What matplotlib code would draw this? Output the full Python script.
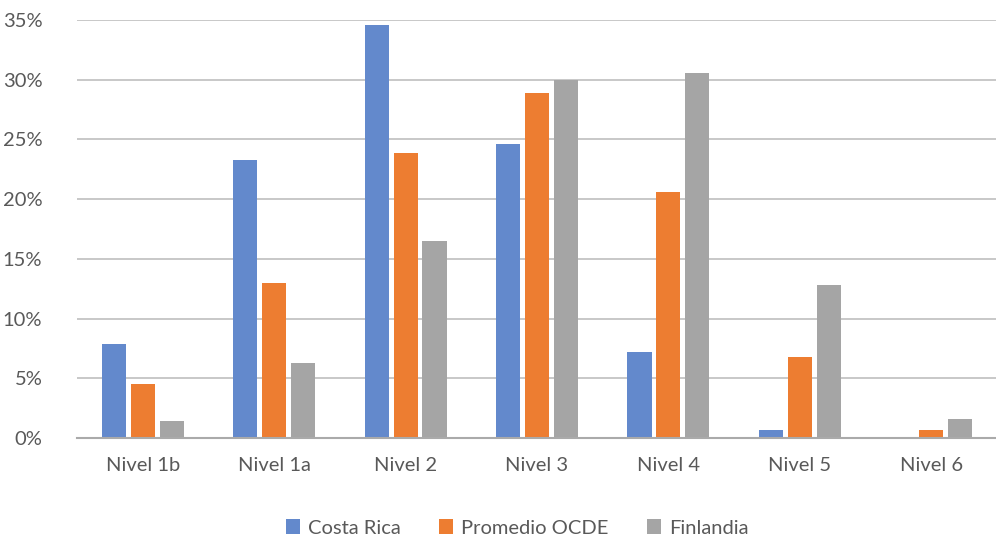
import numpy as np
import matplotlib.pyplot as plt

categories = ["Nivel 1b", "Nivel 1a", "Nivel 2", "Nivel 3", "Nivel 4", "Nivel 5", "Nivel 6"]
costa_rica = [7.9, 23.3, 34.6, 24.6, 7.2, 0.7, 0.0]
promedio_ocde = [4.5, 13.0, 23.9, 28.9, 20.6, 6.8, 0.7]
finlandia = [1.4, 6.3, 16.5, 30.0, 30.6, 12.8, 1.6]

series = [
    ("Costa Rica", costa_rica, "#6389CC"),
    ("Promedio OCDE", promedio_ocde, "#ED7D31"),
    ("Finlandia", finlandia, "#A5A5A5"),
]

plt.rcParams['font.family'] = ['Lato', 'DejaVu Sans']
text_color = "#595959"

fig = plt.figure(figsize=(9.96, 5.4), dpi=100)
ax = fig.add_axes([77 / 996, 1 - 438 / 540, 920 / 996, 418 / 540])

x = np.arange(len(categories))
width = 0.183
offsets = [-0.22, 0.0, 0.22]
for (name, vals, color), off in zip(series, offsets):
    ax.bar(x + off, vals, width, color=color, label=name, zorder=3)

ax.set_xlim(-0.5, len(categories) - 0.5)
ax.set_ylim(0, 35)
ax.set_yticks(range(0, 36, 5))
ax.set_yticklabels([f"{v}%" for v in range(0, 36, 5)])
ax.set_xticks(x)
ax.set_xticklabels(categories)

ax.grid(axis='y', color="#BFBFBF", linewidth=1.2, zorder=0)
for side in ['top', 'right', 'left']:
    ax.spines[side].set_visible(False)
ax.spines['bottom'].set_color("#AAAAAA")
ax.spines['bottom'].set_linewidth(1.5)
ax.spines['bottom'].set_zorder(4)
ax.tick_params(axis='both', length=0, labelsize=14.5, colors=text_color)
ax.tick_params(axis='y', pad=25)
ax.tick_params(axis='x', pad=14)
for lab in ax.get_yticklabels():
    lab.set_horizontalalignment('right')

# legend centred under the plot, as in the original
fig.legend(loc='center', bbox_to_anchor=(517 / 996, 1 - 528 / 540), ncol=3,
           frameon=False, fontsize=14.5, labelcolor=text_color,
           handlelength=0.7, handleheight=0.7, handletextpad=0.4, columnspacing=1.9)

plt.savefig("out.png", dpi=100)
